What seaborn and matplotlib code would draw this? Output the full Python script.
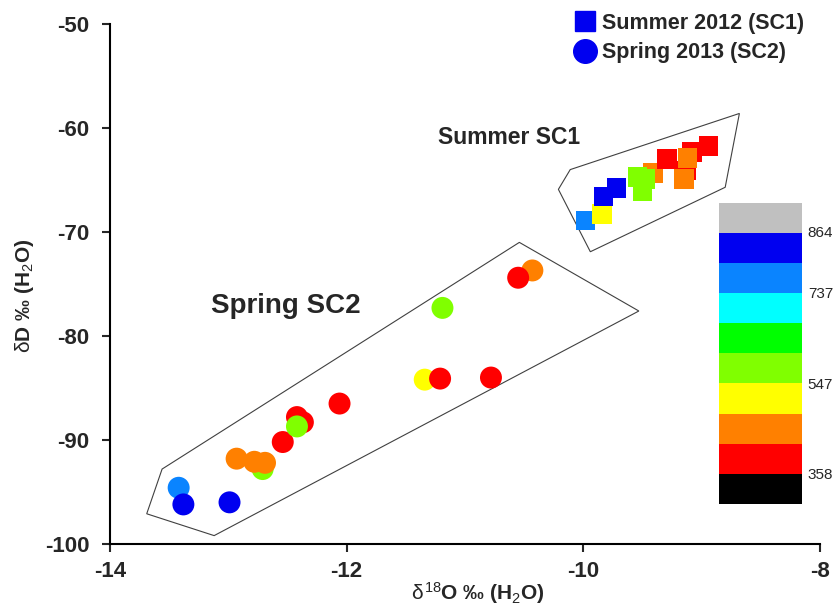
import numpy as np
import pandas as pd
import matplotlib
matplotlib.use("Agg")
import matplotlib.pyplot as plt
import matplotlib.colors as mcolors
from matplotlib.lines import Line2D
import seaborn as sns

# %%
# isotope data
# Summer 2012 (SC1) - squares
sc1_d18o = [-9.98, -9.84, -9.83, -9.72, -9.41, -9.54, -9.50, -9.48,
            -9.29, -9.13, -9.08, -8.94, -9.12, -9.15]
sc1_dd = [-68.9, -68.3, -66.6, -65.8, -64.3, -64.7, -66.1, -64.9,
          -63.0, -64.1, -62.3, -61.7, -62.9, -64.9]
sc1_level = [767, 515, 830, 830, 452, 578, 578, 578,
             390, 390, 390, 390, 452, 452]

# Spring 2013 (SC2) - circles
sc2_d18o = [-13.42, -13.38, -12.99, -12.93, -12.71, -12.78, -12.69,
            -12.54, -12.42, -12.37, -12.42, -12.06, -11.34, -11.21,
            -10.78, -11.19, -10.43, -10.55]
sc2_dd = [-94.6, -96.2, -96.0, -91.8, -92.8, -92.1, -92.2,
          -90.2, -87.8, -88.3, -88.7, -86.5, -84.2, -84.1,
          -84.0, -77.3, -73.7, -74.4]
sc2_level = [767, 830, 830, 452, 578, 452, 452,
             390, 390, 390, 578, 390, 515, 390,
             390, 578, 452, 390]

# envelope polygons
sc1_poly_x = [-10.11, -8.68, -8.80, -9.94, -10.21]
sc1_poly_y = [-64.0, -58.6, -65.7, -71.9, -65.9]
sc2_poly_x = [-13.56, -10.54, -9.53, -13.12, -13.69]
sc2_poly_y = [-92.8, -71.0, -77.6, -99.2, -97.1]

# colour scale (10 bins)
bin_edges = [295, 358, 421, 484, 547, 610, 673, 736, 799, 862, 925]
bin_colors = ["#000000", "#ff0000", "#ff8000", "#ffff00", "#80ff00",
              "#00ff00", "#00ffff", "#0a84ff", "#0000f0", "#c0c0c0"]
cbar_ticks = [358, 547, 737, 864]

# %%
sns.set_style("ticks")
plt.rcParams["font.family"] = ["Liberation Sans", "DejaVu Sans"]
plt.rcParams["mathtext.fontset"] = "custom"
plt.rcParams["mathtext.rm"] = "Liberation Sans"
plt.rcParams["mathtext.it"] = "Liberation Sans"
plt.rcParams["mathtext.bf"] = "Liberation Sans:bold"
plt.rcParams["axes.unicode_minus"] = False

cmap = mcolors.ListedColormap(bin_colors)
norm = mcolors.BoundaryNorm(bin_edges, cmap.N)

df1 = pd.DataFrame({"d18O": sc1_d18o, "dD": sc1_dd, "level": sc1_level})
df2 = pd.DataFrame({"d18O": sc2_d18o, "dD": sc2_dd, "level": sc2_level})
levels = sorted(set(sc1_level + sc2_level))
pal = {v: cmap(norm(v)) for v in levels}

fig = plt.figure(figsize=(8.4, 6.16), dpi=100)
ax = fig.add_axes([0.131, 0.117, 0.845, 0.844])

ax.fill(sc1_poly_x, sc1_poly_y, facecolor="none", edgecolor="#404040", lw=0.8)
ax.fill(sc2_poly_x, sc2_poly_y, facecolor="none", edgecolor="#404040", lw=0.8)

sns.scatterplot(data=df1, x="d18O", y="dD", hue="level", palette=pal,
                marker="s", s=200, linewidth=0, legend=False, ax=ax)
sns.scatterplot(data=df2, x="d18O", y="dD", hue="level", palette=pal,
                marker="o", s=250, linewidth=0, legend=False, ax=ax)

ax.set_xlim(-14, -8)
ax.set_ylim(-100, -50)
ax.set_xticks([-14, -12, -10, -8])
ax.set_yticks(np.arange(-100, -49, 10))
ax.tick_params(direction="out", length=6, width=1.5, labelsize=16, pad=6)
ax.tick_params(axis="y", pad=9)
for lab in ax.get_xticklabels() + ax.get_yticklabels():
    lab.set_fontweight("bold")
for s in ["left", "bottom"]:
    ax.spines[s].set_linewidth(1.5)
    ax.spines[s].set_color("black")
sns.despine(ax=ax)

ax.set_xlabel(r"$\delta^{18}$O ‰ (H$_2$O)", fontsize=15, fontweight="bold")
ax.set_ylabel(r"$\delta$D ‰ (H$_2$O)", fontsize=15, fontweight="bold")
ax.xaxis.set_label_coords(0.518, -0.07)
ax.yaxis.set_label_coords(-0.105, 0.477)

ax.text(-10.63, -60.9, "Summer SC1", fontsize=16.5, fontweight="bold", ha="center", va="center")
ax.text(-12.51, -77.1, "Spring SC2", fontsize=20, fontweight="bold", ha="center", va="center")

handles = [Line2D([], [], marker="s", ls="", color="#0000f0", markersize=15),
           Line2D([], [], marker="o", ls="", color="#0000f0", markersize=17)]
leg = ax.legend(handles, ["Summer 2012 (SC1)", "Spring 2013 (SC2)"],
                loc="upper right", bbox_to_anchor=(0.99, 1.038), frameon=False,
                prop={"weight": "bold", "size": 15.5}, handletextpad=0.3,
                labelspacing=0.4, handlelength=1.0, borderaxespad=0)

# colour bar
cax = fig.add_axes([0.856, 0.182, 0.099, 0.489])
cb = matplotlib.colorbar.ColorbarBase(cax, cmap=cmap, norm=norm, ticks=cbar_ticks)
cb.outline.set_visible(False)
cax.minorticks_off()
cax.tick_params(which="both", length=0, labelsize=11, pad=4)

fig.savefig("out.png", dpi=100)
